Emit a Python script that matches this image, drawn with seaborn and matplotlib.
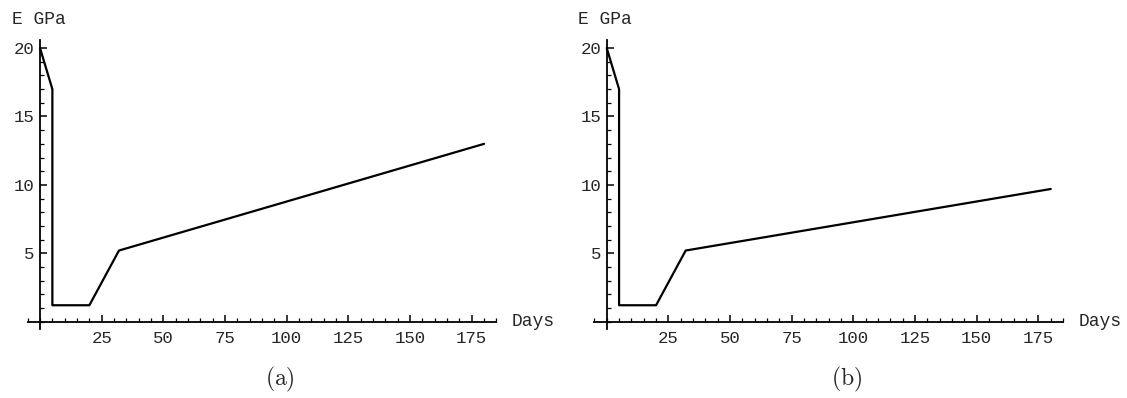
import matplotlib
matplotlib.use("Agg")
import matplotlib.pyplot as plt
import seaborn as sns
import pandas as pd
from matplotlib.ticker import MultipleLocator

sns.set_theme(style="white")
plt.rcParams['font.family'] = ['Liberation Mono', 'DejaVu Sans Mono']
plt.rcParams['mathtext.fontset'] = 'cm'

days = [0, 5, 5, 20, 32, 180]
e_a = [20, 17, 1.2, 1.2, 5.2, 13.0]
e_b = [20, 17, 1.2, 1.2, 5.2, 9.7]
x_major = [25, 50, 75, 100, 125, 150, 175]
y_major = [5, 10, 15, 20]
captions = ["(a)", "(b)"]

W, H = 1127, 398
fig = plt.figure(figsize=(W / 100, H / 100), dpi=100)

lefts_px = [27.7, 594.4]
ax_w_px = 468.7
top_px, bot_px = 39.9, 328.5

for i, (vals, cap) in enumerate(zip([e_a, e_b], captions)):
    left = lefts_px[i] / W
    ax = fig.add_axes([left, (H - bot_px) / H, ax_w_px / W, (bot_px - top_px) / H])
    df = pd.DataFrame({"Days": days, "E": vals})
    sns.lineplot(data=df, x="Days", y="E", ax=ax, sort=False, estimator=None,
                 color="black", linewidth=1.6)
    ax.set_xlim(-5, 185)
    ax.set_ylim(-0.5, 20.6)
    for s in ["top", "right"]:
        ax.spines[s].set_visible(False)
    ax.spines["left"].set_position(("data", 0))
    ax.spines["bottom"].set_position(("data", 0))
    for s in ["left", "bottom"]:
        ax.spines[s].set_color("black")
        ax.spines[s].set_linewidth(1.3)
    ax.set_xticks(x_major)
    ax.set_yticks(y_major)
    ax.xaxis.set_minor_locator(MultipleLocator(5))
    ax.yaxis.set_minor_locator(MultipleLocator(1))
    ax.tick_params(which="major", direction="in", length=5, width=1.1, color="black",
                   labelsize=12.5, bottom=True, left=True)
    ax.tick_params(axis="x", which="major", pad=7)
    ax.tick_params(axis="y", which="major", pad=4)
    ax.tick_params(which="minor", direction="in", length=3, width=0.9, color="black",
                   bottom=True, left=True)
    ax.set_xlabel("")
    ax.set_ylabel("")
    ax.patch.set_alpha(0)
    fig.text((lefts_px[i] - 16) / W, 1 - 19 / H, "E GPa", fontsize=13,
             ha="left", va="center")
    fig.text((lefts_px[i] + 484) / W, 1 - 322 / H, "Days", fontsize=13,
             ha="left", va="center")
    fig.text((lefts_px[i] + 252) / W, 1 - 379 / H, r"$\mathrm{" + cap + "}$",
             fontsize=17, ha="center", va="center")

fig.savefig("out.png", dpi=100)
